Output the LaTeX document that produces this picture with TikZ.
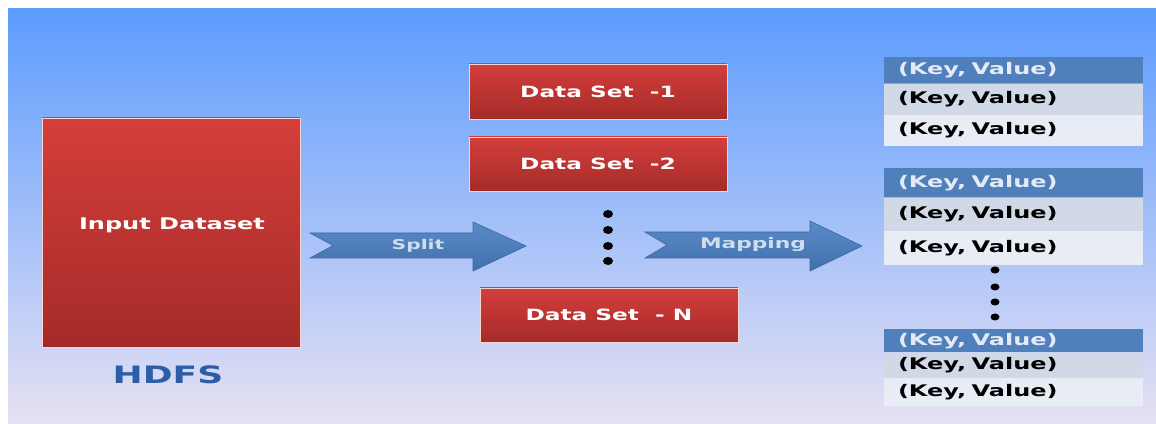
\documentclass[tikz,border=0pt]{standalone}
\usepackage{fontspec}
\newfontfamily\wideb[FakeStretch=1.5]{DejaVu Sans Bold}
\definecolor{bgtop}{HTML}{5C9CFE}
\definecolor{bgmid}{HTML}{8FC2F6}
\definecolor{bgbot}{HTML}{E6E1F3}
\definecolor{redtop}{HTML}{D43E3B}
\definecolor{redbot}{HTML}{A52B28}
\definecolor{redrim}{HTML}{F3D6D6}
\definecolor{arrtop}{HTML}{5A8BC8}
\definecolor{arrbot}{HTML}{4170AC}
\definecolor{arrline}{HTML}{3A66A0}
\definecolor{kvblue}{HTML}{4F80BC}
\definecolor{kvmid}{HTML}{D1D8E6}
\definecolor{kvlight}{HTML}{E8ECF4}
\definecolor{kvhtext}{HTML}{E4EBF6}
\definecolor{hdfsblue}{HTML}{2C5EA8}
\begin{document}
\begin{tikzpicture}[x=1pt,y=1pt,
  redbox/.style={draw=redrim, line width=0.8pt, top color=redtop, bottom color=redbot, inner sep=0pt},
  boxtext/.style={font=\wideb\fontsize{15.5}{15.5}\selectfont, text=white},
  arrowtext/.style={font=\wideb\fontsize{13.5}{13.5}\selectfont, text=kvhtext!85!arrtop},
  blockarrow/.style={draw=arrline, line width=0.6pt, top color=arrtop, bottom color=arrbot},
  kvcell/.style={minimum width=259pt, inner xsep=14pt, inner ysep=0pt, text width=231pt, align=left,
    font=\wideb\fontsize{16}{16}\selectfont, anchor=north},
  kvhead/.style={kvcell, fill=kvblue, text=kvhtext},
  kvrowa/.style={kvcell, fill=kvmid, text=black},
  kvrowb/.style={kvcell, fill=kvlight, text=black},
  dotmark/.style={fill=black}
]
\useasboundingbox (0,0) rectangle (1156,423);
\fill[white] (0,0) rectangle (1156,423);
\shade[top color=bgtop, middle color=bgmid, bottom color=bgbot] (8,0) rectangle (1156,414);

% HDFS input block
\node[redbox, minimum width=258pt, minimum height=229pt] (inp) at (171,190.5) {};
\node[boxtext, font=\wideb\fontsize{16}{16}\selectfont] (inptext) at (172,198) {Input Dataset};
\node[font=\wideb\fontsize{24}{24}\selectfont, text=hdfsblue] (hdfs) at (168,48) {HDFS};

% split data sets
\node[redbox, minimum width=258pt, minimum height=55pt, boxtext] (ds1) at (598,331.5) {Data Set\ \ -1};
\node[redbox, minimum width=258pt, minimum height=54pt, boxtext] (ds2) at (598,259) {Data Set\ \ -2};
\node[redbox, minimum width=258pt, minimum height=54pt, boxtext] (dsn) at (609,108) {Data Set\ \ - N};
\foreach \yy in {209,193,177,162} \fill[dotmark] (608,\yy) ellipse (5 and 4);

% block arrows
\coordinate (splitA) at (310,177.5);
\coordinate (splitB) at (526,177);
\draw[blockarrow] (splitA |- 0,190) -- (473,190) -- (473,201) -- (splitB) -- (473,152) -- (473,165)
  -- (splitA |- 0,165) -- (333,177.5) -- cycle;
\node[arrowtext] (splitlbl) at (418,177) {Split};

\coordinate (mapA) at (645,178);
\coordinate (mapB) at (862,177);
\draw[blockarrow] (mapA |- 0,191) -- (810,191) -- (810,202) -- (mapB) -- (810,152) -- (810,165)
  -- (mapA |- 0,165) -- (667,178) -- cycle;
\node[arrowtext, font=\wideb\fontsize{14.5}{14.5}\selectfont] (maplbl) at (753,178) {Mapping};

% key/value tables
\node[kvhead, minimum height=26pt] (a0) at (1013.5,366) {(Key, Value)};
\node[kvrowa, minimum height=31pt] (a1) at (a0.south) {(Key, Value)};
\node[kvrowb, minimum height=31pt] (a2) at (a1.south) {(Key, Value)};

\node[kvhead, minimum height=29pt] (b0) at (1013.5,255) {(Key, Value)};
\node[kvrowa, minimum height=33pt] (b1) at (b0.south) {(Key, Value)};
\node[kvrowb, minimum height=34pt] (b2) at (b1.south) {(Key, Value)};

\foreach \yy in {153,136,121,106} \fill[dotmark] (995,\yy) ellipse (4.5 and 3.5);

\node[kvhead, minimum height=23pt] (c0) at (1013.5,94) {(Key, Value)};
\node[kvrowa, minimum height=25pt] (c1) at (c0.south) {(Key, Value)};
\node[kvrowb, minimum height=28pt] (c2) at (c1.south) {(Key, Value)};
\end{tikzpicture}
\end{document}
